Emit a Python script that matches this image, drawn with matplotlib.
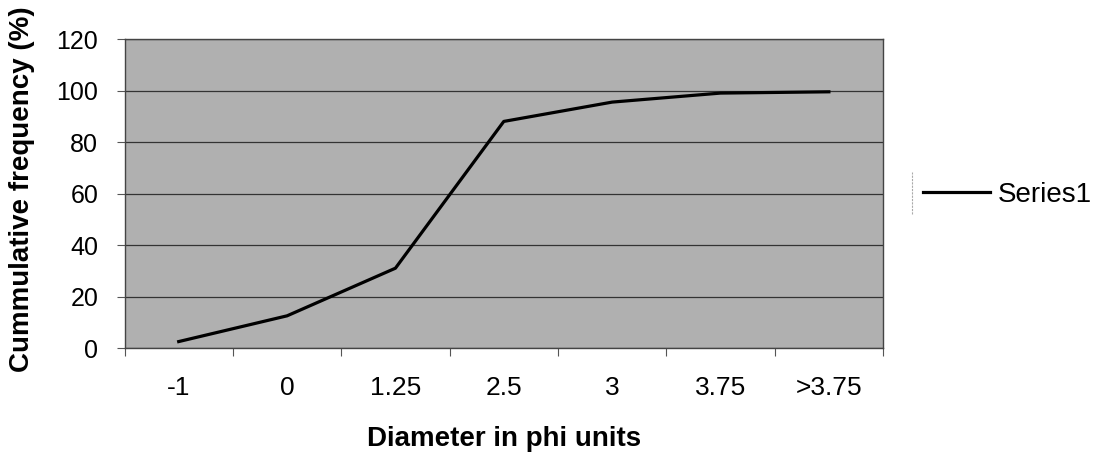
import matplotlib
matplotlib.use("Agg")
import matplotlib.pyplot as plt
from matplotlib.lines import Line2D
import numpy as np

plt.rcParams['font.family'] = ['Liberation Sans', 'DejaVu Sans']

categories = ["-1", "0", "1.25", "2.5", "3", "3.75", ">3.75"]
cum_freq = [2.5, 12.5, 31, 88, 95.5, 99, 99.5]
yticks = [0, 20, 40, 60, 80, 100, 120]

fig = plt.figure(figsize=(11.03, 4.59), dpi=100)
ax = fig.add_axes([0.1129, 0.2418, 0.6877, 0.6732])
ax.set_facecolor("#b0b0b0")

x = np.arange(len(categories))
ax.plot(x, cum_freq, color="black", lw=2.3, label="Series1", zorder=3)

ax.set_xlim(-0.5, len(categories) - 0.5)
ax.set_ylim(0, 120)
ax.set_yticks(yticks)
ax.yaxis.grid(True, color="#333333", lw=0.9)
ax.set_axisbelow(True)

ax.set_xticks(x)
ax.set_xticklabels(categories)
ax.set_xticks(np.arange(len(categories) + 1) - 0.5, minor=True)
ax.tick_params(axis="x", which="major", length=0, pad=20, labelsize=19)
ax.tick_params(axis="x", which="minor", length=6, width=0.8, color="#555555")
ax.tick_params(axis="y", length=6, width=0.8, pad=13, labelsize=18, color="#555555")

for s in ax.spines.values():
    s.set_color("#444444")
    s.set_linewidth(1)

ax.set_xlabel("Diameter in phi units", fontsize=20, fontweight="bold", labelpad=19)
fig.text(0.02, 1 - 372 / 459, "Cummulative frequency (%)", rotation=90, fontsize=20,
         fontweight="bold", ha="center", va="bottom")

leg = fig.legend(loc="center left", bbox_to_anchor=(0.814, 0.575), frameon=False,
                 fontsize=20, handlelength=2.4, handletextpad=0.3)

# faint remnant of the legend box edge
fig.add_artist(Line2D([0.827, 0.827], [1 - 214 / 459, 1 - 172 / 459],
                      transform=fig.transFigure, color="#aaaaaa", lw=0.8, ls=(0, (2, 1))))

fig.savefig("out.png", dpi=100)
